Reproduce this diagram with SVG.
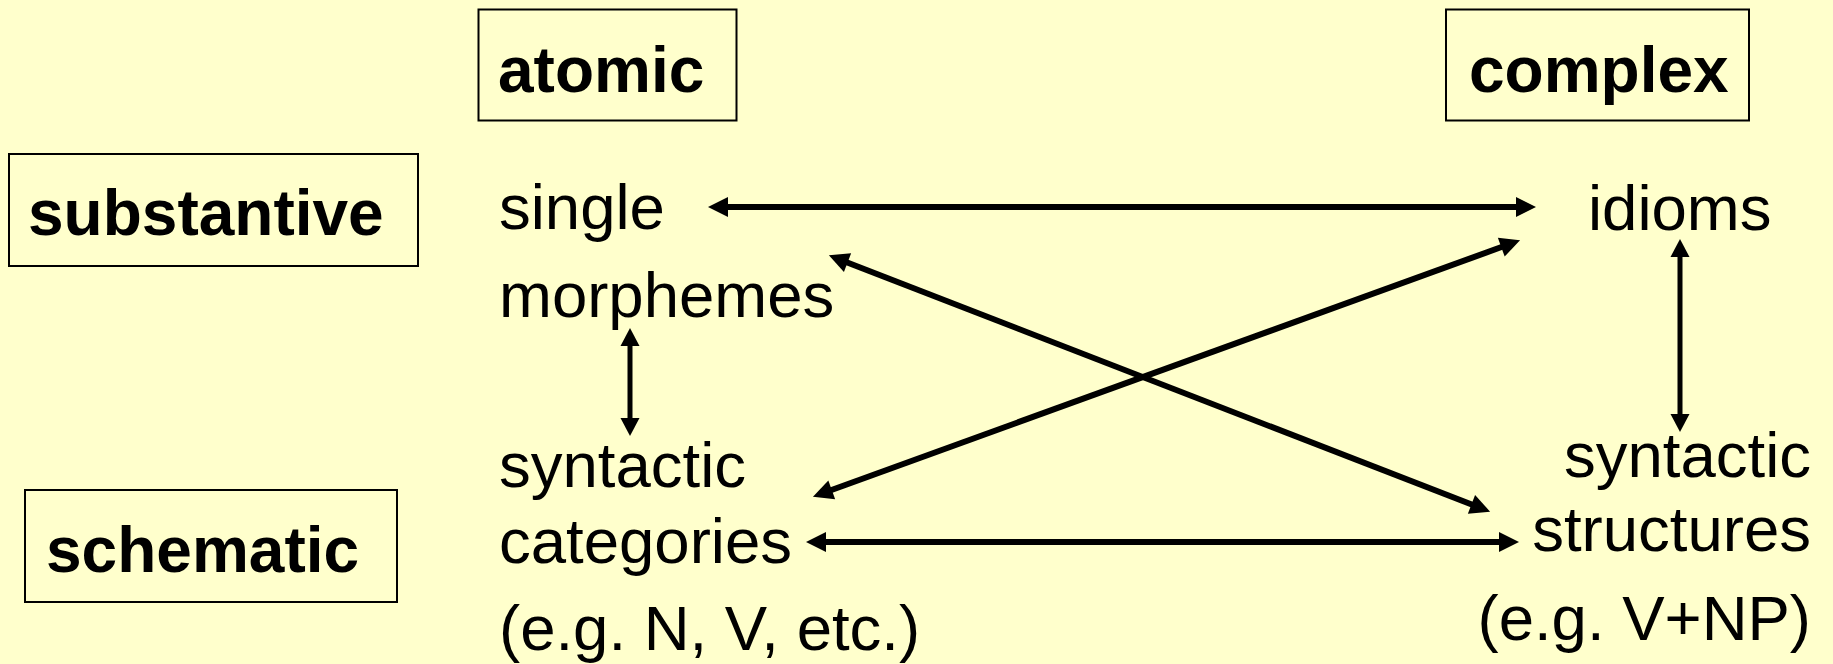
<svg xmlns="http://www.w3.org/2000/svg" width="1833" height="664" viewBox="0 0 1833 664">
<style>
.bg{fill:#FFFFCC}
.box{fill:#FFFFCC;stroke:#000;stroke-width:2}
.hdr{font-family:"Liberation Sans",Arial,sans-serif;font-weight:bold;font-size:64px;fill:#000}
.lbl{font-family:"Liberation Sans",Arial,sans-serif;font-size:63.5px;fill:#000}
.thick{stroke:#000;stroke-width:6;fill:none;marker-start:url(#ah);marker-end:url(#ah)}
.thin{stroke:#000;stroke-width:5;fill:none;marker-start:url(#ahs);marker-end:url(#ahs)}
</style>
<defs>
<marker id="ah" markerUnits="userSpaceOnUse" markerWidth="22" markerHeight="22" refX="1" refY="0" orient="auto-start-reverse" overflow="visible">
<path d="M0,-10 L20,0 L0,10 Z" fill="#000"/>
</marker>
<marker id="ahs" markerUnits="userSpaceOnUse" markerWidth="20" markerHeight="20" refX="1" refY="0" orient="auto-start-reverse" overflow="visible">
<path d="M0,-9.5 L18,0 L0,9.5 Z" fill="#000"/>
</marker>
</defs>
<rect class="bg" x="0" y="0" width="1833" height="664"/>

<g id="atomic">
<rect class="box" x="478.5" y="9.5" width="258" height="111"/>
<text class="hdr" x="498" y="92">atomic</text>
</g>
<g id="complex">
<rect class="box" x="1446" y="9.5" width="303" height="111"/>
<text class="hdr" x="1469" y="92">complex</text>
</g>
<g id="substantive">
<rect class="box" x="9" y="154" width="409" height="112"/>
<text class="hdr" x="28" y="235">substantive</text>
</g>
<g id="schematic">
<rect class="box" x="25" y="490" width="372" height="112"/>
<text class="hdr" x="46" y="572">schematic</text>
</g>

<g id="single-morphemes">
<text class="lbl" x="499" y="229">single</text>
<text class="lbl" x="499" y="317">morphemes</text>
</g>
<g id="idioms">
<text class="lbl" x="1588" y="230">idioms</text>
</g>
<g id="syntactic-categories">
<text class="lbl" x="499" y="487">syntactic</text>
<text class="lbl" x="499" y="563">categories</text>
<text class="lbl" x="499" y="650">(e.g. N, V, etc.)</text>
</g>
<g id="syntactic-structures">
<text class="lbl" x="1811" y="477" text-anchor="end">syntactic</text>
<text class="lbl" x="1811" y="551" text-anchor="end">structures</text>
<text class="lbl" x="1811" y="640" text-anchor="end">(e.g. V+NP)</text>
</g>

<g id="connectors">
<line class="thick" x1="727" y1="207" x2="1517" y2="207"/>
<line class="thick" x1="825" y1="542" x2="1500" y2="542"/>
<line class="thin" x1="630" y1="345" x2="630" y2="419"/>
<line class="thin" x1="1680" y1="256" x2="1680" y2="415"/>
<line class="thick" x1="846.6" y1="262.2" x2="1472.4" y2="504.8"/>
<line class="thick" x1="1502.2" y1="246.8" x2="830.8" y2="490.2"/>
</g>
</svg>
